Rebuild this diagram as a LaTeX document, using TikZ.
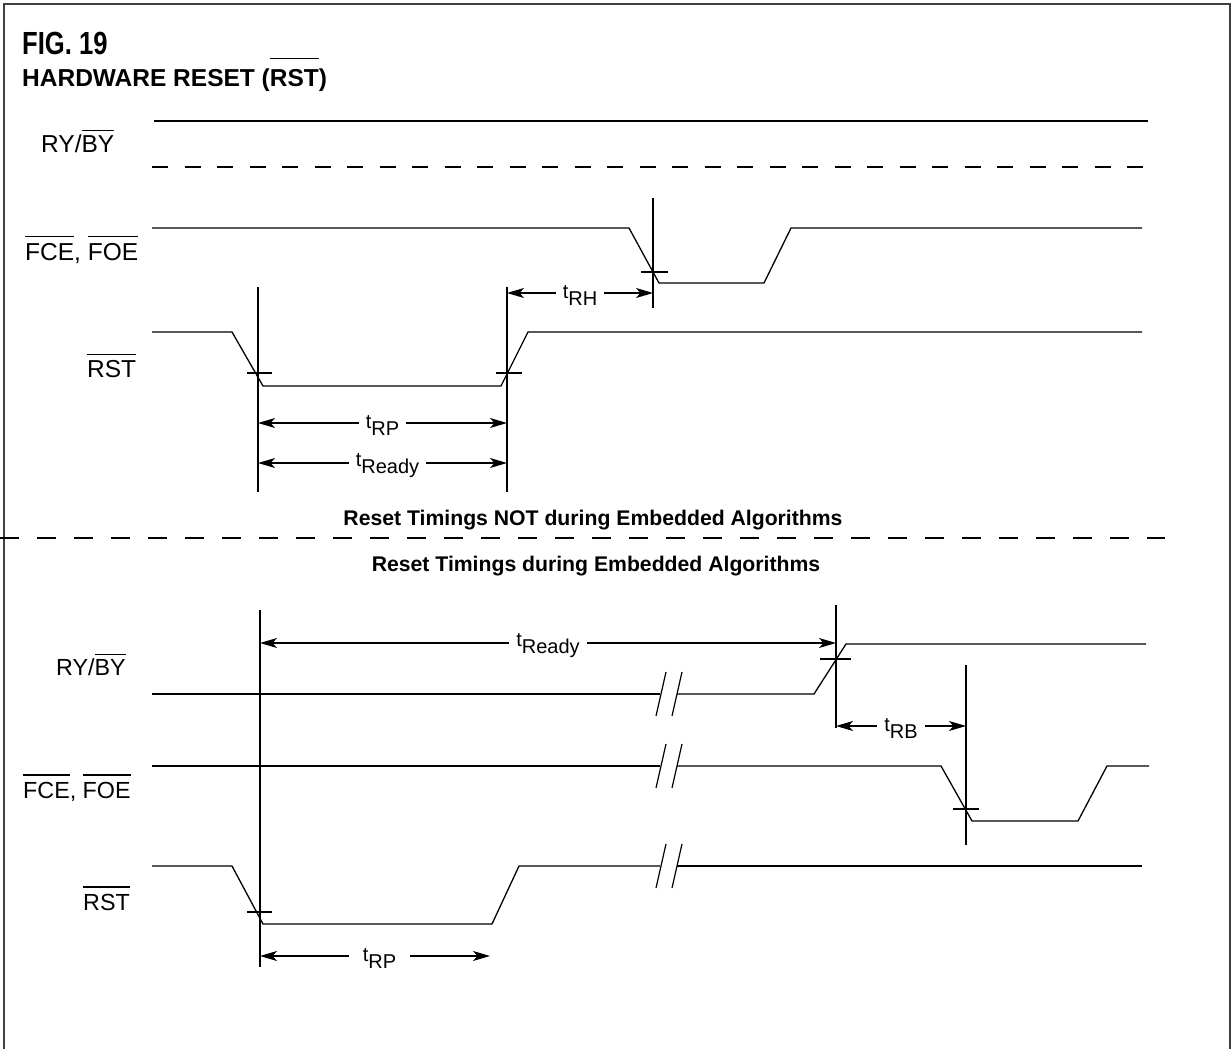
\documentclass[tikz,border=0pt]{standalone}
\usepackage{fontspec}
\setmainfont{Liberation Sans}
\usetikzlibrary{arrows.meta}
\newcommand{\ovl}[2][4pt]{\leavevmode\vbox{\hrule height 1.3pt\kern#1\hbox{#2}}}
\newcommand{\tlab}[1]{t\raisebox{-7pt}{#1}}
\tikzset{
  sig/.style={line width=1.3pt, line join=miter},
  frameln/.style={line width=1.6pt, black!75},
  vln/.style={line width=1.3pt},
  tickln/.style={line width=1.2pt},
  brk/.style={line width=1.2pt},
  dimarr/.style={line width=1.3pt, {Stealth[length=17pt,width=10pt,inset=4.5pt]}-{Stealth[length=17pt,width=10pt,inset=4.5pt]}},
  dimlab/.style={fill=white, inner xsep=7pt, inner ysep=0pt, yshift=-3pt, font=\fontsize{20}{22}\selectfont},
  siglab/.style={anchor=base west, inner sep=0pt, font=\fontsize{24.5}{26}\selectfont},
  siglabB/.style={anchor=base west, inner sep=0pt, font=\fontsize{23.3}{25}\selectfont},
  sectlab/.style={inner sep=0pt, font=\bfseries\fontsize{21.2}{23}\selectfont},
}
\begin{document}
\begin{tikzpicture}[x=1pt,y=-1pt]
\useasboundingbox (0,0) rectangle (1232,1049);
% frame
\draw[frameln] (4,1049) -- (4,4) -- (1230,4) -- (1230,1049);
% title
\node[anchor=base west, inner sep=0pt, font=\bfseries\fontsize{32}{34}\selectfont] (fig) at (22,55) {\scalebox{0.8}[1]{FIG. 19}};
\node[anchor=base west, inner sep=0pt, font=\bfseries\fontsize{24.5}{26}\selectfont] (ttl) at (22,86) {HARDWARE RESET (\ovl[10pt]{RST})};

% ---------------- top section ----------------
\node[siglab] (ryT) at (41,152) {RY/\ovl{BY}};
\node[siglab] (fceT) at (25,260) {\ovl[6pt]{FCE}, \ovl[6pt]{FOE}};
\node[siglab] (rstT) at (87,377) {\ovl[5pt]{RST}};

\draw[sig] (154,121) -- (1148,121);
\draw[sig, dash pattern=on 16pt off 16.5pt] (152,167) -- (1147,167);
\draw[sig] (152,228) -- (629,228) -- (659,283) -- (764,283) -- (791,228) -- (1142,228);
\draw[sig] (152,332) -- (232,332) -- (263,386) -- (501,386) -- (528,332) -- (1142,332);

\coordinate (t1a) at (258,287); \coordinate (t1b) at (258,492);
\coordinate (t2a) at (507,287); \coordinate (t2b) at (507,492);
\coordinate (t3a) at (653,198); \coordinate (t3b) at (653,308);
\draw[vln] (t1a) -- (t1b);
\draw[vln] (t2a) -- (t2b);
\draw[vln] (t3a) -- (t3b);
\draw[tickln] (247,373) -- (272,373);
\draw[tickln] (496,373) -- (522,373);
\draw[tickln] (641,272) -- (668,272);

\coordinate (rpL) at (258,423); \coordinate (rpR) at (507,423);
\coordinate (rdL) at (258,463); \coordinate (rdR) at (507,463);
\coordinate (rhL) at (507,293); \coordinate (rhR) at (653,293);
\draw[dimarr] (rpL) -- (rpR) node[dimlab, midway] (lrp) {\tlab{RP}};
\draw[dimarr] (rdL) -- (rdR) node[dimlab, pos=0.52] (lrd) {\tlab{Ready}};
\draw[dimarr] (rhL) -- (rhR) node[dimlab, midway] (lrh) {\tlab{RH}};

% ---------------- separator ----------------
\node[sectlab] (s1) at (593,520) {Reset Timings NOT during Embedded Algorithms};
\draw[sig, dash pattern=on 19pt off 18pt] (0,538) -- (1165,538);
\node[sectlab] (s2) at (596,566) {Reset Timings during Embedded Algorithms};

% ---------------- bottom section ----------------
\node[siglabB] (ryB) at (56,675) {RY/\ovl{BY}};
\node[siglabB] (fceB) at (23,798) {\ovl[6pt]{FCE}, \ovl[6pt]{FOE}};
\node[siglabB] (rstB) at (83,910) {\ovl[6pt]{RST}};

\draw[sig] (152,694) -- (660,694);
\draw[sig] (677,694) -- (814,694) -- (846,644) -- (1146,644);
\draw[sig] (152,766) -- (660,766);
\draw[sig] (677,766) -- (941,766) -- (972,821) -- (1078,821) -- (1107,766) -- (1149,766);
\draw[sig] (152,866) -- (232,866) -- (263,924) -- (492,924) -- (519,866) -- (660,866);
\draw[sig] (677,866) -- (1142,866);
% breaks
\foreach \yy in {694,766,866}{
  \draw[brk] (656,\yy+22) -- (666,\yy-22);
  \draw[brk] (672,\yy+22) -- (682,\yy-22);
}

\coordinate (b1a) at (260,610); \coordinate (b1b) at (260,967);
\coordinate (b2a) at (836,605); \coordinate (b2b) at (836,728);
\coordinate (b3a) at (966,665); \coordinate (b3b) at (966,845);
\draw[vln] (b1a) -- (b1b);
\draw[vln] (b2a) -- (b2b);
\draw[vln] (b3a) -- (b3b);
\draw[tickln] (247,912) -- (272,912);
\draw[tickln] (820,659) -- (851,659);
\draw[tickln] (953,809) -- (979,809);

\coordinate (brdL) at (260,643); \coordinate (brdR) at (836,643);
\coordinate (brbL) at (836,726); \coordinate (brbR) at (966,726);
\coordinate (brpL) at (260,956); \coordinate (brpR) at (490,956);
\draw[dimarr] (brdL) -- (brdR) node[dimlab, midway] (lbrd) {\tlab{Ready}};
\draw[dimarr] (brbL) -- (brbR) node[dimlab, midway] (lbrb) {\tlab{RB}};
\draw[dimarr] (brpL) -- (brpR) node[dimlab, pos=0.52, inner xsep=14pt] (lbrp) {\tlab{RP}};
\end{tikzpicture}
\end{document}
